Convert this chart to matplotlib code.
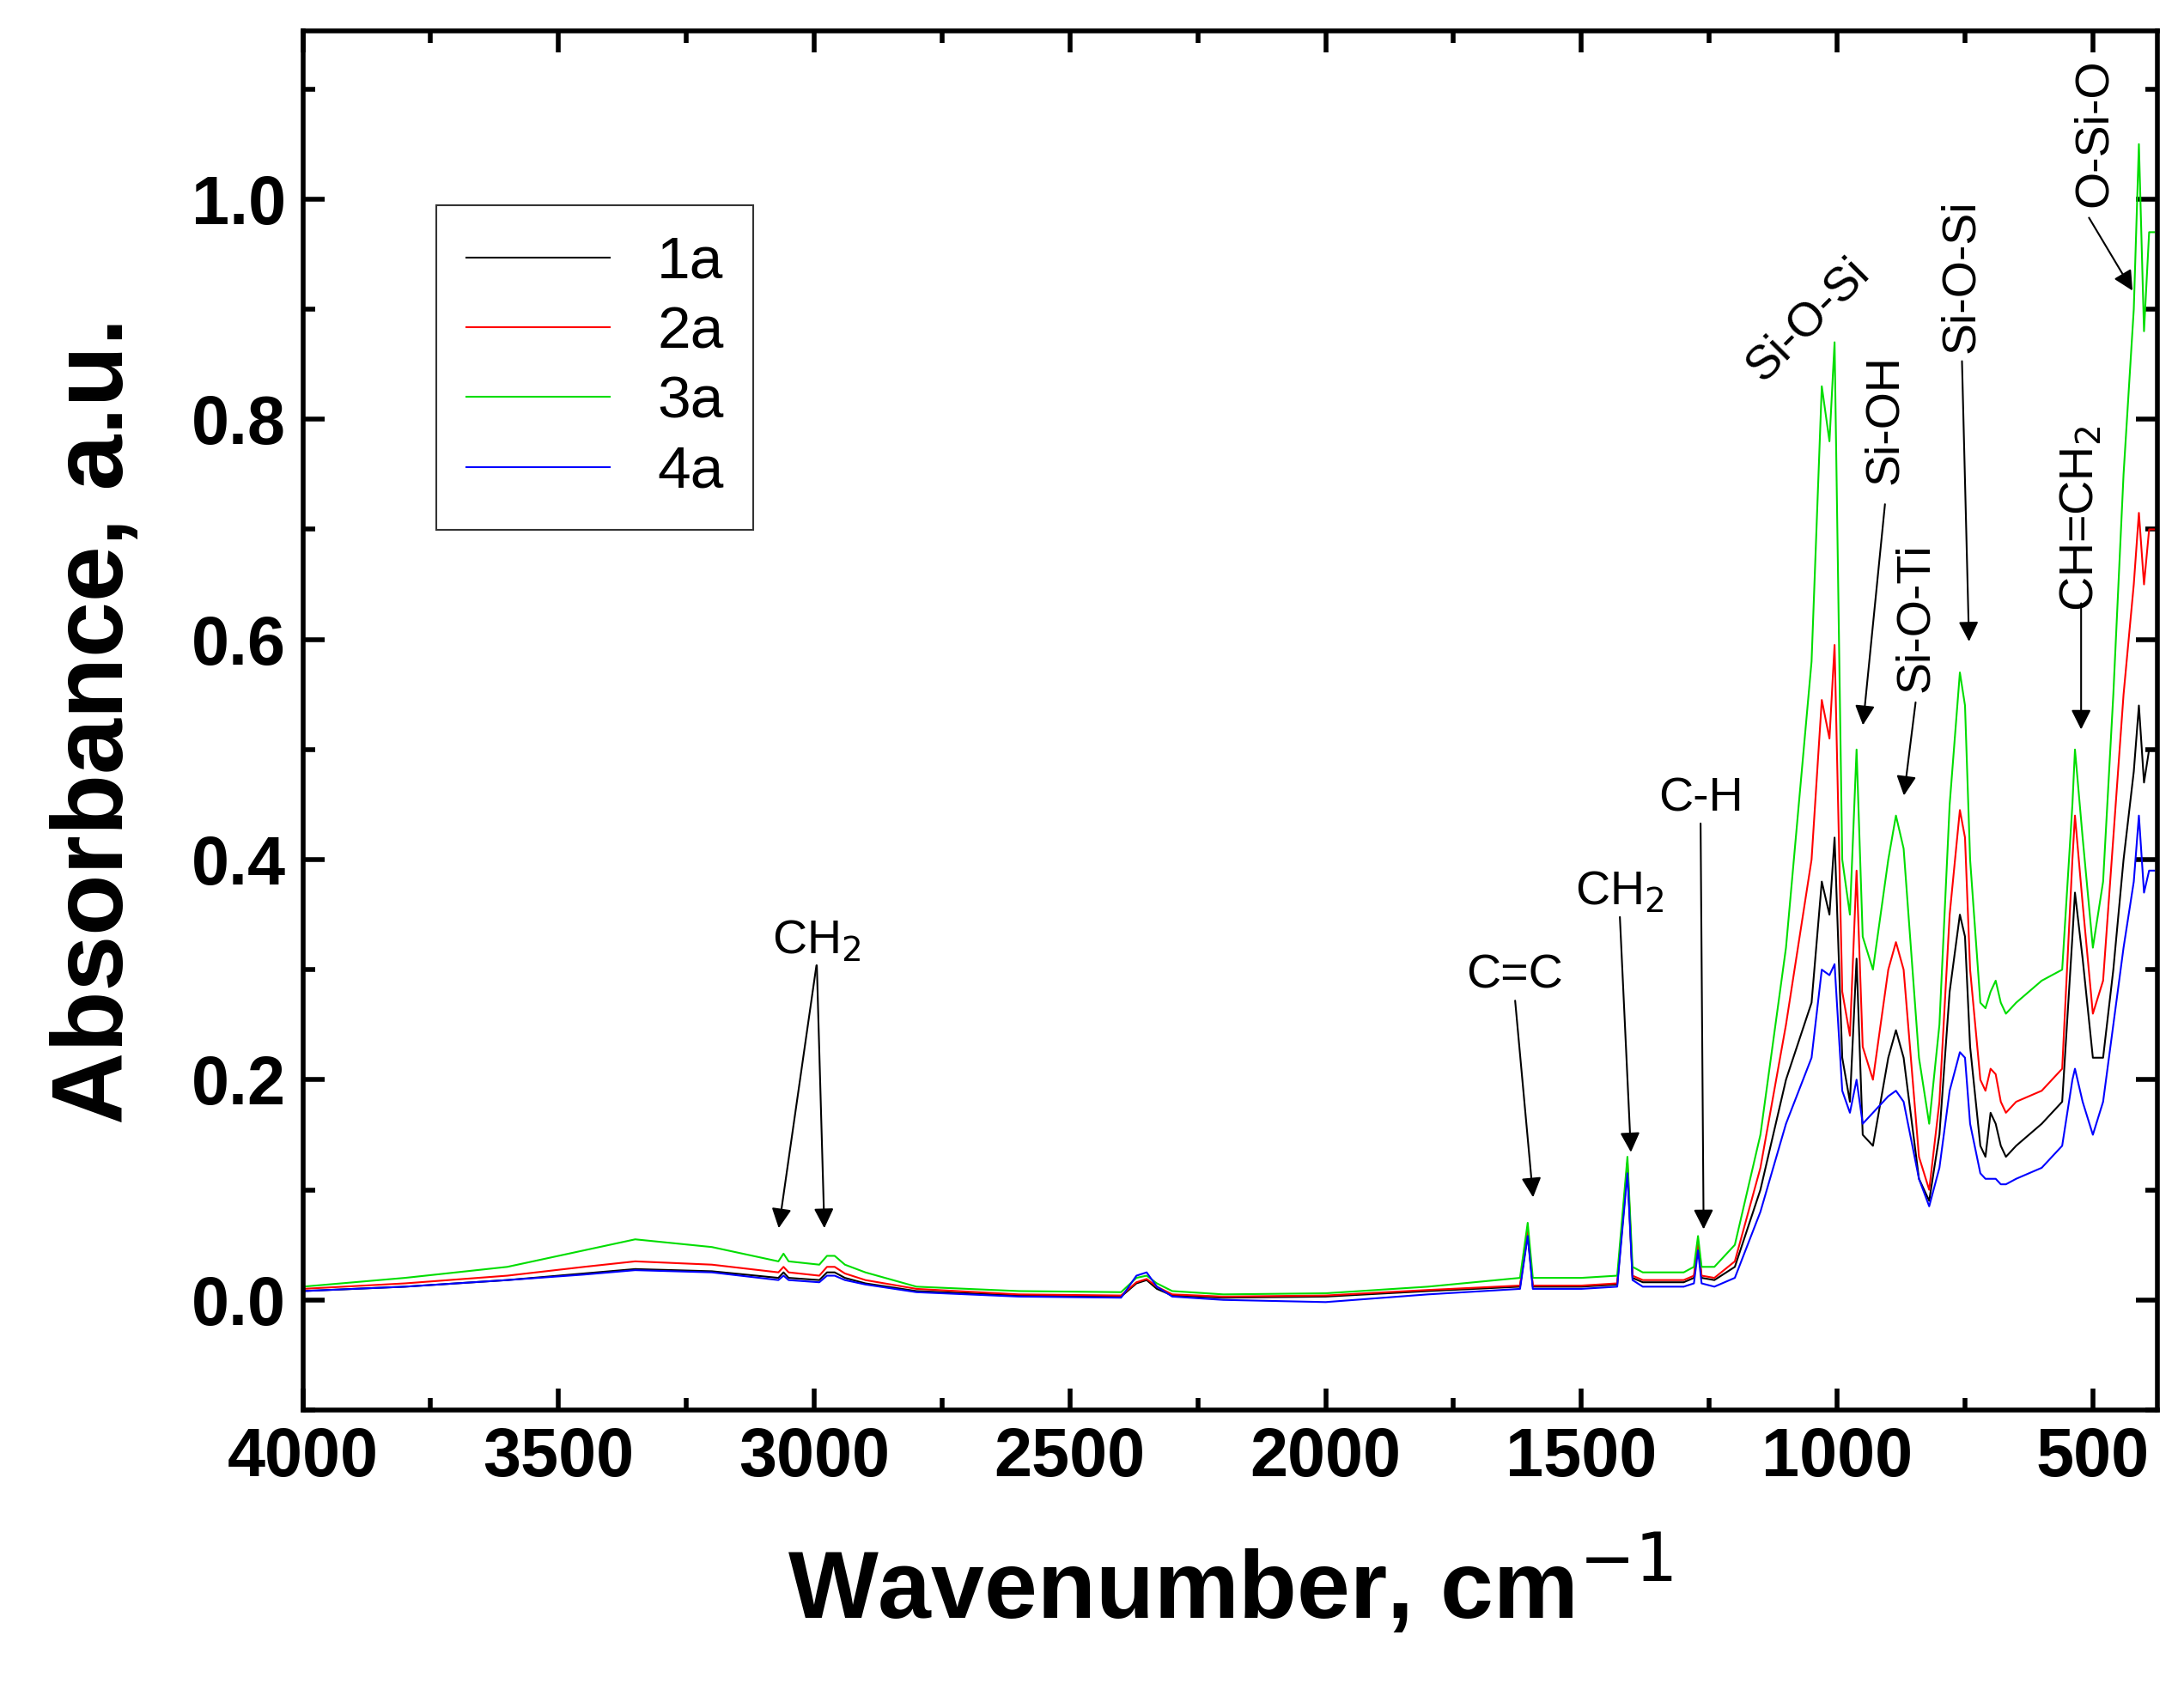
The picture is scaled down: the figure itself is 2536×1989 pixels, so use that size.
import matplotlib.pyplot as plt
from matplotlib.ticker import MultipleLocator

plt.rcParams["font.family"] = "Liberation Sans"

# wavenumber grid, cm-1 (descending)
WAVENUMBER = [4000, 3800, 3600, 3450, 3350, 3200, 3070, 3060, 3050, 2990,
              2975, 2960, 2940, 2900, 2800, 2600, 2400, 2370, 2350, 2330,
              2300, 2200, 2000, 1800, 1620, 1605, 1595, 1500, 1430, 1410,
              1400, 1380, 1300, 1280, 1272, 1265, 1240, 1200, 1150, 1100,
              1050, 1030, 1015, 1005, 990, 975, 962, 950, 930, 900,
              885, 870, 840, 820, 800, 780, 760, 750, 740, 720,
              710, 700, 690, 680, 670, 650, 600, 560, 540, 535,
              520, 500, 480, 460, 440, 420, 410, 400, 390, 380]

A_1A = [.008, .012, .018, .024, .028, .026, .020, .025, .020, .018,
        .025, .025, .020, .015, .008, .004, .003, .015, .018, .010,
        .004, .002, .003, .008, .012, .060, .012, .012, .014, .120,
        .020, .016, .016, .020, .050, .020, .018, .030, .100, .200,
        .270, .380, .350, .420, .220, .180, .310, .150, .140, .220,
        .245, .220, .110, .090, .150, .280, .350, .330, .230, .140,
        .130, .170, .160, .140, .130, .140, .160, .180, .330, .370,
        .310, .220, .220, .300, .400, .480, .540, .470, .500, .500]

A_2A = [.010, .015, .022, .030, .035, .032, .025, .030, .025, .022,
        .030, .030, .024, .018, .010, .005, .004, .016, .019, .012,
        .005, .003, .004, .009, .013, .062, .013, .013, .015, .125,
        .022, .018, .018, .022, .053, .022, .020, .035, .120, .250,
        .400, .545, .510, .595, .280, .240, .390, .230, .200, .300,
        .325, .300, .130, .100, .180, .350, .445, .420, .300, .200,
        .190, .210, .205, .180, .170, .180, .190, .210, .400, .440,
        .360, .260, .290, .420, .550, .650, .715, .650, .700, .700]

A_3A = [.012, .020, .030, .045, .055, .048, .035, .042, .035, .032,
        .040, .040, .032, .025, .012, .008, .007, .020, .022, .015,
        .008, .005, .006, .012, .020, .070, .020, .020, .022, .130,
        .030, .025, .025, .030, .058, .030, .030, .050, .150, .320,
        .580, .830, .780, .870, .400, .350, .500, .330, .300, .400,
        .440, .410, .220, .160, .250, .450, .570, .540, .400, .270,
        .265, .280, .290, .270, .260, .270, .290, .300, .450, .500,
        .420, .320, .380, .550, .750, .900, 1.05, .880, .970, .970]

A_4A = [.008, .012, .018, .023, .027, .025, .018, .022, .018, .016,
        .022, .022, .018, .014, .007, .003, .002, .022, .025, .012,
        .003, .000, -.002, .005, .010, .058, .010, .010, .012, .115,
        .018, .012, .012, .015, .045, .015, .012, .020, .080, .160,
        .220, .300, .295, .305, .190, .170, .200, .160, .170, .185,
        .190, .180, .110, .085, .120, .190, .225, .220, .160, .115,
        .110, .110, .110, .105, .105, .110, .120, .140, .200, .210,
        .180, .150, .180, .250, .320, .380, .440, .370, .390, .390]

SERIES = [("1a", A_1A, "black"), ("2a", A_2A, "red"),
          ("3a", A_3A, "#00dd00"), ("4a", A_4A, "blue")]

# (label, text x, text y, rotation, arrow tips [(x, y), ...])
BANDS = [
    ("CH$_2$", 2995, 0.326, 0, [(3070, 0.063), (2980, 0.063)]),
    ("C=C", 1630, 0.294, 0, [(1594, 0.091)]),
    ("CH$_2$", 1425, 0.370, 0, [(1403, 0.132)]),
    ("C-H", 1267, 0.455, 0, [(1261, 0.062)]),
    ("Si-O-Si", 1056, 0.890, 45, []),
    ("Si-OH", 906, 0.800, 90, [(950, 0.520)]),
    ("Si-O-Ti", 846, 0.620, 90, [(870, 0.456)]),
    ("Si-O-Si", 756, 0.930, 90, [(742, 0.596)]),
    ("CH=CH$_2$", 523, 0.710, 90, [(523, 0.516)]),
    ("O-Si-O", 496, 1.060, 90, [(420, 0.915)]),
]

fig = plt.figure(figsize=(25.36, 19.89), dpi=100)
ax = fig.add_axes([0.139, 0.1745, 0.8515, 0.8075])

for name, vals, color in SERIES:
    ax.plot(WAVENUMBER, vals, color=color, lw=1.5, label=name)

for text, tx, ty, rot, tips in BANDS:
    t = ax.text(tx, ty, text, rotation=rot, ha="center", va="center", fontsize=40)
    for px, py in tips:
        # arrow starts just below the label
        sy = ty - (0.02 if rot == 0 else 0.075)
        if text == "O-Si-O":
            sx, sy = 510, 0.985
        else:
            sx = tx
        ax.annotate("", xy=(px, py), xytext=(sx, sy),
                    arrowprops=dict(arrowstyle="-|>", color="black", lw=1.5,
                                    mutation_scale=35))

ax.set_xlim(4000, 374)
ax.set_ylim(-0.1, 1.153)
ax.xaxis.set_major_locator(MultipleLocator(500))
ax.xaxis.set_minor_locator(MultipleLocator(250))
ax.yaxis.set_major_locator(MultipleLocator(0.2))
ax.yaxis.set_minor_locator(MultipleLocator(0.1))
ax.tick_params(which="both", direction="in", top=True, right=True, width=4)
ax.tick_params(which="major", length=18, labelsize=57, pad=14)
ax.tick_params(which="minor", length=10)
for lab in ax.get_xticklabels() + ax.get_yticklabels():
    lab.set_fontweight("bold")
for sp in ax.spines.values():
    sp.set_linewidth(4)

ax.set_xlabel("Wavenumber, cm$^{-1}$", fontsize=80, fontweight="bold", labelpad=35)
ax.set_ylabel("Absorbance, a.u.", fontsize=84, fontweight="bold", labelpad=40)

leg = ax.legend(loc="upper left", bbox_to_anchor=(0.056, 0.895), fontsize=50,
                fancybox=False, edgecolor="black", handlelength=2.4,
                borderpad=0.5, labelspacing=0.25)
leg.get_frame().set_linewidth(1.5)

fig.savefig("out.png", dpi=100)
